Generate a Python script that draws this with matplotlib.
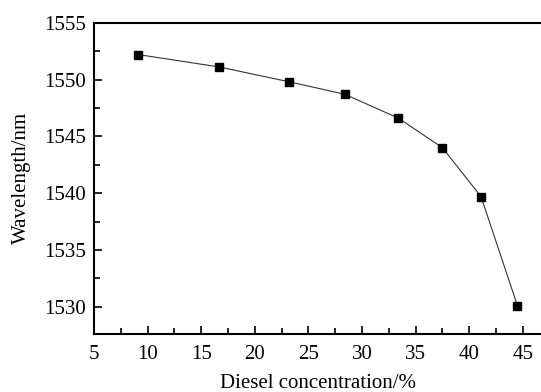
import matplotlib.pyplot as plt
from matplotlib.ticker import MultipleLocator

# data
concentration = [9.1, 16.7, 23.2, 28.4, 33.4, 37.5, 41.1, 44.5]
wavelength = [1552.2, 1551.1, 1549.8, 1548.7, 1546.6, 1544.0, 1539.7, 1530.1]

plt.rcParams['font.family'] = ['Liberation Serif', 'DejaVu Serif']

fig = plt.figure(figsize=(5.41, 3.92), dpi=100)
ax = fig.add_axes([94 / 541, 1 - 334 / 392, 1 - 94 / 541, (334 - 22.7) / 392])

ax.plot(concentration, wavelength, color='#333333', lw=0.8,
        marker='s', ms=6, mfc='black', mec='black')

ax.set_xlim(5, 46.7)
ax.set_ylim(1527.6, 1555)
ax.xaxis.set_major_locator(MultipleLocator(5))
ax.xaxis.set_minor_locator(MultipleLocator(2.5))
ax.yaxis.set_major_locator(MultipleLocator(5))
ax.yaxis.set_minor_locator(MultipleLocator(2.5))
ax.tick_params(which='both', direction='in', labelsize=15, width=1.2)
ax.tick_params(which='major', length=6)
ax.tick_params(which='minor', length=4)
ax.tick_params(axis='x', pad=8)
ax.tick_params(axis='y', pad=6)
for s in ['left', 'bottom', 'top']:
    ax.spines[s].set_linewidth(1.5)
ax.spines['right'].set_visible(False)

ax.set_xlabel('Diesel concentration/%', fontsize=15, labelpad=7)
ax.set_ylabel('Wavelength/nm', fontsize=15, labelpad=9)

fig.savefig('out.png', dpi=100)
